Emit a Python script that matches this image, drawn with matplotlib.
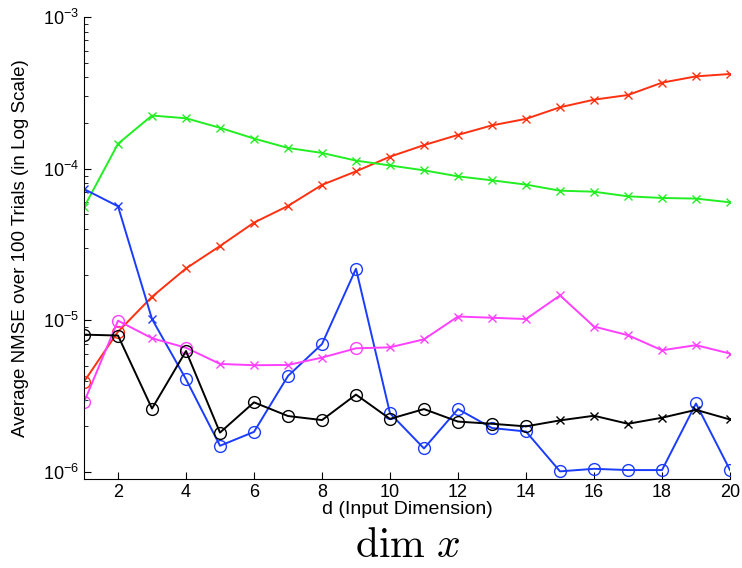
import matplotlib
matplotlib.use("Agg")
import matplotlib.pyplot as plt
import numpy as np

d = list(range(1, 21))

red = [3.94e-6, 8.42e-6, 1.43e-5, 2.2e-5, 3.09e-5, 4.41e-5, 5.68e-5, 7.82e-5, 9.6e-5, 1.2e-4,
       1.43e-4, 1.67e-4, 1.93e-4, 2.13e-4, 2.54e-4, 2.85e-4, 3.06e-4, 3.69e-4, 4.06e-4, 4.21e-4]
green = [5.57e-5, 1.46e-4, 2.24e-4, 2.15e-4, 1.86e-4, 1.58e-4, 1.37e-4, 1.27e-4, 1.13e-4, 1.05e-4,
         9.75e-5, 8.9e-5, 8.38e-5, 7.85e-5, 7.16e-5, 7.05e-5, 6.57e-5, 6.41e-5, 6.35e-5, 6.0e-5]
blue = [7.34e-5, 5.65e-5, 1.02e-5, 4.09e-6, 1.49e-6, 1.84e-6, 4.3e-6, 6.98e-6, 2.19e-5, 2.44e-6,
        1.43e-6, 2.6e-6, 1.95e-6, 1.85e-6, 1.01e-6, 1.05e-6, 1.03e-6, 1.03e-6, 2.83e-6, 1.03e-6]
magenta = [2.88e-6, 9.95e-6, 7.62e-6, 6.6e-6, 5.16e-6, 5.06e-6, 5.08e-6, 5.68e-6, 6.54e-6, 6.64e-6,
           7.5e-6, 1.06e-5, 1.04e-5, 1.02e-5, 1.46e-5, 9.1e-6, 7.98e-6, 6.35e-6, 6.86e-6, 6.04e-6]
black = [8.05e-6, 7.94e-6, 2.62e-6, 6.28e-6, 1.82e-6, 2.88e-6, 2.34e-6, 2.2e-6, 3.24e-6, 2.24e-6,
         2.6e-6, 2.15e-6, 2.08e-6, 2.0e-6, 2.19e-6, 2.35e-6, 2.08e-6, 2.28e-6, 2.57e-6, 2.22e-6]

# d values at which a series is marked with a circle (others with a cross)
red_circ = [1, 2]
green_circ = []
blue_circ = list(range(4, 21))
magenta_circ = [1, 2, 4, 9]
black_circ = list(range(1, 15))

xticks = [2, 4, 6, 8, 10, 12, 14, 16, 18, 20]

plt.rcParams['font.family'] = ['Liberation Sans', 'DejaVu Sans']
plt.rcParams['mathtext.fontset'] = 'cm'

fig = plt.figure(figsize=(7.42, 5.68), dpi=100)
ax = fig.add_axes([84/742, 1-479/568, (730-84)/742, (479-17)/568])

series = [
    (red, red_circ, '#ff3010'),
    (green, green_circ, '#22ee22'),
    (blue, blue_circ, '#1a3cff'),
    (magenta, magenta_circ, '#ff40ff'),
    (black, black_circ, '#000000'),
]
for vals, circ, col in series:
    ax.plot(d, vals, '-', color=col, lw=1.4)
    xc = [x for x, v in zip(d, vals) if x in circ]
    yc = [v for x, v in zip(d, vals) if x in circ]
    xx = [x for x, v in zip(d, vals) if x not in circ]
    yx = [v for x, v in zip(d, vals) if x not in circ]
    ax.plot(xc, yc, 'o', mfc='none', mec=col, ms=8.5, mew=1.0, ls='none')
    ax.plot(xx, yx, 'x', color=col, ms=6, mew=1.0, ls='none')

ax.set_yscale('log')
ax.set_xlim(1, 20)
ax.set_ylim(10**-6.046, 1e-3)
ax.set_xticks(xticks)
ax.tick_params(axis='both', which='both', direction='in', labelsize=13)
ax.tick_params(axis='both', which='major', length=5)
ax.tick_params(axis='y', which='minor', length=3)
ax.spines['top'].set_visible(False)
ax.spines['right'].set_visible(False)
ax.set_xlabel('d (Input Dimension)', fontsize=14, labelpad=0)
ax.set_ylabel('Average NMSE over 100 Trials (in Log Scale)', fontsize=13.5, labelpad=10)
fig.text(408/742, 1-546/568, r'$\dim\,x$', ha='center', va='center', fontsize=30)

fig.savefig('out.png', dpi=100)
